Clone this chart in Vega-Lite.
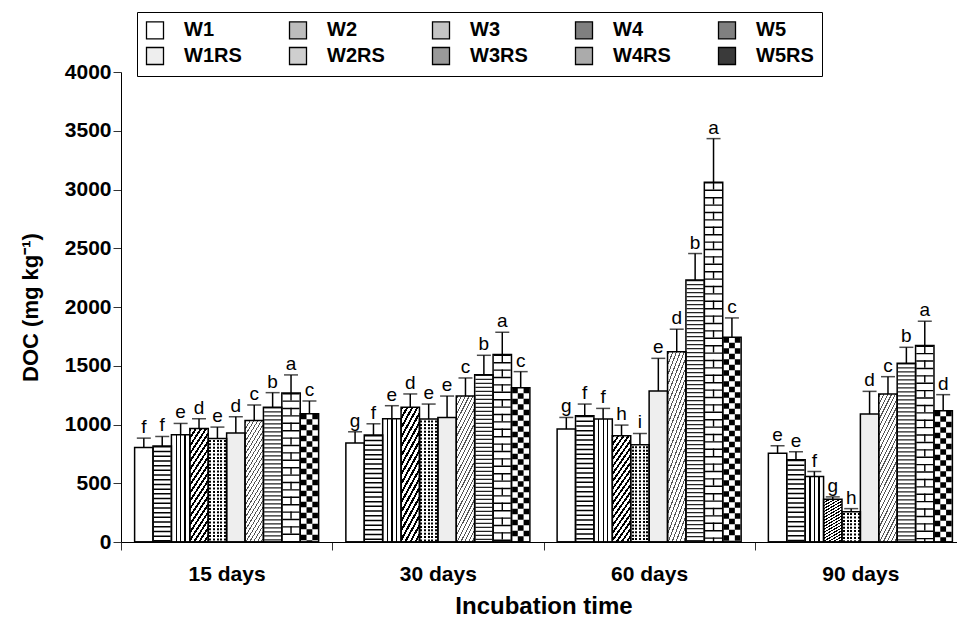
{
  "$schema": "https://vega.github.io/schema/vega-lite/v6.json",
  "autosize": {"type": "none"},
  "padding": {"left": 121, "top": 72, "right": 0, "bottom": 77},
  "width": 836,
  "height": 470,
  "config": {"view": {"stroke": null}, "font": "Liberation Sans", "axis": {"labelColor": "black", "titleColor": "black"}},
  "data": {"values": [
    {"t": "15 days", "s": "W1", "v": 804, "hi": 884, "l": "f"},
    {"t": "15 days", "s": "W2", "v": 816, "hi": 898, "l": "f"},
    {"t": "15 days", "s": "W3", "v": 913, "hi": 1009, "l": "e"},
    {"t": "15 days", "s": "W4", "v": 966, "hi": 1049, "l": "d"},
    {"t": "15 days", "s": "W5", "v": 881, "hi": 978, "l": "e"},
    {"t": "15 days", "s": "W1RS", "v": 927, "hi": 1066, "l": "d"},
    {"t": "15 days", "s": "W2RS", "v": 1035, "hi": 1166, "l": "c"},
    {"t": "15 days", "s": "W3RS", "v": 1146, "hi": 1271, "l": "b"},
    {"t": "15 days", "s": "W4RS", "v": 1268, "hi": 1422, "l": "a"},
    {"t": "15 days", "s": "W5RS", "v": 1092, "hi": 1200, "l": "c"},
    {"t": "30 days", "s": "W1", "v": 842, "hi": 938, "l": "g"},
    {"t": "30 days", "s": "W2", "v": 910, "hi": 1006, "l": "f"},
    {"t": "30 days", "s": "W3", "v": 1049, "hi": 1160, "l": "e"},
    {"t": "30 days", "s": "W4", "v": 1146, "hi": 1260, "l": "d"},
    {"t": "30 days", "s": "W5", "v": 1046, "hi": 1174, "l": "e"},
    {"t": "30 days", "s": "W1RS", "v": 1060, "hi": 1242, "l": "e"},
    {"t": "30 days", "s": "W2RS", "v": 1242, "hi": 1396, "l": "c"},
    {"t": "30 days", "s": "W3RS", "v": 1424, "hi": 1589, "l": "b"},
    {"t": "30 days", "s": "W4RS", "v": 1595, "hi": 1785, "l": "a"},
    {"t": "30 days", "s": "W5RS", "v": 1313, "hi": 1450, "l": "c"},
    {"t": "60 days", "s": "W1", "v": 961, "hi": 1060, "l": "g"},
    {"t": "60 days", "s": "W2", "v": 1074, "hi": 1174, "l": "f"},
    {"t": "60 days", "s": "W3", "v": 1046, "hi": 1137, "l": "f"},
    {"t": "60 days", "s": "W4", "v": 904, "hi": 995, "l": "h"},
    {"t": "60 days", "s": "W5", "v": 827, "hi": 924, "l": "i"},
    {"t": "60 days", "s": "W1RS", "v": 1285, "hi": 1563, "l": "e"},
    {"t": "60 days", "s": "W2RS", "v": 1620, "hi": 1811, "l": "d"},
    {"t": "60 days", "s": "W3RS", "v": 2230, "hi": 2455, "l": "b"},
    {"t": "60 days", "s": "W4RS", "v": 3062, "hi": 3433, "l": "a"},
    {"t": "60 days", "s": "W5RS", "v": 1743, "hi": 1907, "l": "c"},
    {"t": "90 days", "s": "W1", "v": 756, "hi": 819, "l": "e"},
    {"t": "90 days", "s": "W2", "v": 699, "hi": 768, "l": "e"},
    {"t": "90 days", "s": "W3", "v": 557, "hi": 600, "l": "f"},
    {"t": "90 days", "s": "W4", "v": 364, "hi": 384, "l": "g"},
    {"t": "90 days", "s": "W5", "v": 258, "hi": 284, "l": "h"},
    {"t": "90 days", "s": "W1RS", "v": 1089, "hi": 1282, "l": "d"},
    {"t": "90 days", "s": "W2RS", "v": 1260, "hi": 1407, "l": "c"},
    {"t": "90 days", "s": "W3RS", "v": 1521, "hi": 1657, "l": "b"},
    {"t": "90 days", "s": "W4RS", "v": 1672, "hi": 1879, "l": "a"},
    {"t": "90 days", "s": "W5RS", "v": 1117, "hi": 1254, "l": "d"}
  ]},
  "encoding": {
    "x": {"field": "t", "type": "nominal", "sort": ["15 days", "30 days", "60 days", "90 days"],
      "scale": {"range": [0, 845], "paddingInner": 0, "paddingOuter": 0},
      "axis": {"title": "Incubation time", "labelAngle": 0, "tickBand": "extent", "domainColor": "black", "tickColor": "#333", "tickSize": 8, "labelFontSize": 21, "labelFontWeight": "bold", "labelPadding": 13, "titleFontSize": 24, "titleFontWeight": "bold", "titlePadding": 10}},
    "xOffset": {"field": "s", "type": "nominal", "sort": ["W1", "W2", "W3", "W4", "W5", "W1RS", "W2RS", "W3RS", "W4RS", "W5RS"],
      "scale": {"paddingInner": 0, "paddingOuter": 0.74}}
  },
  "layer": [
    {
      "mark": {"type": "bar", "strokeWidth": 0, "fill": "white"},
      "encoding": {
        "y": {"field": "v", "type": "quantitative", "scale": {"domain": [0, 4000], "nice": false},
          "axis": {"title": "DOC (mg kg⁻¹)", "format": "d", "values": [0, 500, 1000, 1500, 2000, 2500, 3000, 3500, 4000], "grid": false, "domainColor": "black", "tickColor": "#333", "tickSize": 8, "labelFontSize": 21, "labelFontWeight": "bold", "labelPadding": 2, "titleFontSize": 22, "titleFontWeight": "bold", "titlePadding": 22}}
      }
    },
    {
      "transform": [{"filter": "datum.s === 'W1RS'"}],
      "mark": {"type": "bar", "strokeWidth": 0, "fill": "#eeeeee"},
      "encoding": {"y": {"field": "v", "type": "quantitative", "scale": {"domain": [0, 4000], "nice": false}}}
    },
    {
      "transform": [{"filter": "datum.s === 'W3'"}],
      "mark": {"type": "bar", "strokeWidth": 0, "fill": {"gradient": "linear", "x1": 0, "y1": 0, "x2": 1, "y2": 0, "stops": [{"offset": 0, "color": "white"}, {"offset": 0.23, "color": "white"}, {"offset": 0.23, "color": "black"}, {"offset": 0.3, "color": "black"}, {"offset": 0.3, "color": "white"}, {"offset": 0.47, "color": "white"}, {"offset": 0.47, "color": "black"}, {"offset": 0.54, "color": "black"}, {"offset": 0.54, "color": "white"}, {"offset": 0.71, "color": "white"}, {"offset": 0.71, "color": "black"}, {"offset": 0.78, "color": "black"}, {"offset": 0.78, "color": "white"}, {"offset": 1, "color": "white"}]}},
      "encoding": {"y": {"field": "v", "type": "quantitative", "scale": {"domain": [0, 4000], "nice": false}}}
    },
    {
      "transform": [{"filter": "datum.s === 'W4'"}],
      "mark": {"type": "bar", "strokeWidth": 0, "fill": {"gradient": "linear", "x1": 0, "y1": 0, "x2": 0.294, "y2": 1.176, "stops": [{"offset": 0, "color": "black"}, {"offset": 0.024, "color": "black"}, {"offset": 0.024, "color": "white"}, {"offset": 0.0555, "color": "white"}, {"offset": 0.0555, "color": "black"}, {"offset": 0.0795, "color": "black"}, {"offset": 0.0795, "color": "white"}, {"offset": 0.111, "color": "white"}, {"offset": 0.111, "color": "black"}, {"offset": 0.135, "color": "black"}, {"offset": 0.135, "color": "white"}, {"offset": 0.1665, "color": "white"}, {"offset": 0.1665, "color": "black"}, {"offset": 0.1905, "color": "black"}, {"offset": 0.1905, "color": "white"}, {"offset": 0.222, "color": "white"}, {"offset": 0.222, "color": "black"}, {"offset": 0.246, "color": "black"}, {"offset": 0.246, "color": "white"}, {"offset": 0.2775, "color": "white"}, {"offset": 0.2775, "color": "black"}, {"offset": 0.3015, "color": "black"}, {"offset": 0.3015, "color": "white"}, {"offset": 0.333, "color": "white"}, {"offset": 0.333, "color": "black"}, {"offset": 0.357, "color": "black"}, {"offset": 0.357, "color": "white"}, {"offset": 0.3885, "color": "white"}, {"offset": 0.3885, "color": "black"}, {"offset": 0.4125, "color": "black"}, {"offset": 0.4125, "color": "white"}, {"offset": 0.444, "color": "white"}, {"offset": 0.444, "color": "black"}, {"offset": 0.468, "color": "black"}, {"offset": 0.468, "color": "white"}, {"offset": 0.4995, "color": "white"}, {"offset": 0.4995, "color": "black"}, {"offset": 0.5235, "color": "black"}, {"offset": 0.5235, "color": "white"}, {"offset": 0.555, "color": "white"}, {"offset": 0.555, "color": "black"}, {"offset": 0.579, "color": "black"}, {"offset": 0.579, "color": "white"}, {"offset": 0.6105, "color": "white"}, {"offset": 0.6105, "color": "black"}, {"offset": 0.6345, "color": "black"}, {"offset": 0.6345, "color": "white"}, {"offset": 0.666, "color": "white"}, {"offset": 0.666, "color": "black"}, {"offset": 0.69, "color": "black"}, {"offset": 0.69, "color": "white"}, {"offset": 0.7215, "color": "white"}, {"offset": 0.7215, "color": "black"}, {"offset": 0.7455, "color": "black"}, {"offset": 0.7455, "color": "white"}, {"offset": 0.777, "color": "white"}, {"offset": 0.777, "color": "black"}, {"offset": 0.801, "color": "black"}, {"offset": 0.801, "color": "white"}, {"offset": 0.8325, "color": "white"}, {"offset": 0.8325, "color": "black"}, {"offset": 0.8565, "color": "black"}, {"offset": 0.8565, "color": "white"}, {"offset": 0.888, "color": "white"}, {"offset": 0.888, "color": "black"}, {"offset": 0.912, "color": "black"}, {"offset": 0.912, "color": "white"}, {"offset": 0.9435, "color": "white"}, {"offset": 0.9435, "color": "black"}, {"offset": 0.9675, "color": "black"}, {"offset": 0.9675, "color": "white"}, {"offset": 1, "color": "white"}]}},
      "encoding": {"y": {"field": "v", "type": "quantitative", "scale": {"domain": [0, 4000], "nice": false}}}
    },
    {
      "transform": [{"filter": "datum.s === 'W5'"}],
      "mark": {"type": "bar", "strokeWidth": 0, "fill": {"gradient": "linear", "x1": 0, "y1": 0, "x2": 1, "y2": 0, "stops": [{"offset": 0, "color": "white"}, {"offset": 0.05, "color": "white"}, {"offset": 0.05, "color": "black"}, {"offset": 0.16, "color": "black"}, {"offset": 0.16, "color": "white"}, {"offset": 0.25, "color": "white"}, {"offset": 0.25, "color": "black"}, {"offset": 0.36, "color": "black"}, {"offset": 0.36, "color": "white"}, {"offset": 0.45, "color": "white"}, {"offset": 0.45, "color": "black"}, {"offset": 0.56, "color": "black"}, {"offset": 0.56, "color": "white"}, {"offset": 0.65, "color": "white"}, {"offset": 0.65, "color": "black"}, {"offset": 0.76, "color": "black"}, {"offset": 0.76, "color": "white"}, {"offset": 0.85, "color": "white"}, {"offset": 0.85, "color": "black"}, {"offset": 0.96, "color": "black"}, {"offset": 0.96, "color": "white"}, {"offset": 1, "color": "white"}]}},
      "encoding": {"y": {"field": "v", "type": "quantitative", "scale": {"domain": [0, 4000], "nice": false}}}
    },
    {
      "transform": [{"filter": "datum.s === 'W2RS'"}],
      "mark": {"type": "bar", "strokeWidth": 0, "fill": {"gradient": "linear", "x1": 0, "y1": 0, "x2": 0.294, "y2": 1.176, "stops": [{"offset": 0, "color": "white"}, {"offset": 0.01, "color": "white"}, {"offset": 0.01, "color": "#555"}, {"offset": 0.022, "color": "#555"}, {"offset": 0.022, "color": "white"}, {"offset": 0.0517, "color": "white"}, {"offset": 0.0517, "color": "#555"}, {"offset": 0.0637, "color": "#555"}, {"offset": 0.0637, "color": "white"}, {"offset": 0.0933, "color": "white"}, {"offset": 0.0933, "color": "#555"}, {"offset": 0.1053, "color": "#555"}, {"offset": 0.1053, "color": "white"}, {"offset": 0.135, "color": "white"}, {"offset": 0.135, "color": "#555"}, {"offset": 0.147, "color": "#555"}, {"offset": 0.147, "color": "white"}, {"offset": 0.1767, "color": "white"}, {"offset": 0.1767, "color": "#555"}, {"offset": 0.1887, "color": "#555"}, {"offset": 0.1887, "color": "white"}, {"offset": 0.2183, "color": "white"}, {"offset": 0.2183, "color": "#555"}, {"offset": 0.2303, "color": "#555"}, {"offset": 0.2303, "color": "white"}, {"offset": 0.26, "color": "white"}, {"offset": 0.26, "color": "#555"}, {"offset": 0.272, "color": "#555"}, {"offset": 0.272, "color": "white"}, {"offset": 0.3017, "color": "white"}, {"offset": 0.3017, "color": "#555"}, {"offset": 0.3137, "color": "#555"}, {"offset": 0.3137, "color": "white"}, {"offset": 0.3433, "color": "white"}, {"offset": 0.3433, "color": "#555"}, {"offset": 0.3553, "color": "#555"}, {"offset": 0.3553, "color": "white"}, {"offset": 0.385, "color": "white"}, {"offset": 0.385, "color": "#555"}, {"offset": 0.397, "color": "#555"}, {"offset": 0.397, "color": "white"}, {"offset": 0.4267, "color": "white"}, {"offset": 0.4267, "color": "#555"}, {"offset": 0.4387, "color": "#555"}, {"offset": 0.4387, "color": "white"}, {"offset": 0.4683, "color": "white"}, {"offset": 0.4683, "color": "#555"}, {"offset": 0.4803, "color": "#555"}, {"offset": 0.4803, "color": "white"}, {"offset": 0.51, "color": "white"}, {"offset": 0.51, "color": "#555"}, {"offset": 0.522, "color": "#555"}, {"offset": 0.522, "color": "white"}, {"offset": 0.5517, "color": "white"}, {"offset": 0.5517, "color": "#555"}, {"offset": 0.5637, "color": "#555"}, {"offset": 0.5637, "color": "white"}, {"offset": 0.5933, "color": "white"}, {"offset": 0.5933, "color": "#555"}, {"offset": 0.6053, "color": "#555"}, {"offset": 0.6053, "color": "white"}, {"offset": 0.635, "color": "white"}, {"offset": 0.635, "color": "#555"}, {"offset": 0.647, "color": "#555"}, {"offset": 0.647, "color": "white"}, {"offset": 0.6767, "color": "white"}, {"offset": 0.6767, "color": "#555"}, {"offset": 0.6887, "color": "#555"}, {"offset": 0.6887, "color": "white"}, {"offset": 0.7183, "color": "white"}, {"offset": 0.7183, "color": "#555"}, {"offset": 0.7303, "color": "#555"}, {"offset": 0.7303, "color": "white"}, {"offset": 0.76, "color": "white"}, {"offset": 0.76, "color": "#555"}, {"offset": 0.772, "color": "#555"}, {"offset": 0.772, "color": "white"}, {"offset": 0.8017, "color": "white"}, {"offset": 0.8017, "color": "#555"}, {"offset": 0.8137, "color": "#555"}, {"offset": 0.8137, "color": "white"}, {"offset": 0.8433, "color": "white"}, {"offset": 0.8433, "color": "#555"}, {"offset": 0.8553, "color": "#555"}, {"offset": 0.8553, "color": "white"}, {"offset": 0.885, "color": "white"}, {"offset": 0.885, "color": "#555"}, {"offset": 0.897, "color": "#555"}, {"offset": 0.897, "color": "white"}, {"offset": 0.9267, "color": "white"}, {"offset": 0.9267, "color": "#555"}, {"offset": 0.9387, "color": "#555"}, {"offset": 0.9387, "color": "white"}, {"offset": 0.9683, "color": "white"}, {"offset": 0.9683, "color": "#555"}, {"offset": 0.9803, "color": "#555"}, {"offset": 0.9803, "color": "white"}, {"offset": 1, "color": "white"}]}},
      "encoding": {"y": {"field": "v", "type": "quantitative", "scale": {"domain": [0, 4000], "nice": false}}}
    },
    {
      "transform": [{"filter": "datum.s === 'W2'"}],
      "mark": {"type": "rule", "color": "black", "strokeWidth": 17, "strokeDash": [1.5, 3.2]},
      "encoding": {"y": {"field": "v", "type": "quantitative", "scale": {"domain": [0, 4000], "nice": false}}, "y2": {"datum": 0}}
    },
    {
      "transform": [{"filter": "datum.s === 'W3RS'"}],
      "mark": {"type": "rule", "color": "#222", "strokeWidth": 17, "strokeDash": [1.2, 2.8]},
      "encoding": {"y": {"field": "v", "type": "quantitative", "scale": {"domain": [0, 4000], "nice": false}}, "y2": {"datum": 0}}
    },
    {
      "transform": [{"filter": "datum.s === 'W4RS'"}],
      "mark": {"type": "rule", "color": "black", "strokeWidth": 17, "strokeDash": [1.4, 6.0]},
      "encoding": {"y": {"field": "v", "type": "quantitative", "scale": {"domain": [0, 4000], "nice": false}}, "y2": {"datum": 0}}
    },
    {
      "transform": [{"filter": "datum.s === 'W4RS'"}],
      "mark": {"type": "rule", "color": "black", "strokeWidth": 1.4, "strokeDash": [7.4, 7.4]},
      "encoding": {"y": {"field": "v", "type": "quantitative", "scale": {"domain": [0, 4000], "nice": false}}, "y2": {"datum": 0}}
    },
    {
      "transform": [{"filter": "datum.s === 'W5RS'"}],
      "mark": {"type": "rule", "color": "black", "strokeWidth": 17, "strokeDash": [5.5, 5.5]},
      "encoding": {"y": {"field": "v", "type": "quantitative", "scale": {"domain": [0, 4000], "nice": false}}, "y2": {"datum": 0}}
    },
    {
      "transform": [{"filter": "datum.s === 'W5RS'"}],
      "mark": {"type": "rule", "color": "white", "strokeWidth": 5.8},
      "encoding": {"y": {"field": "v", "type": "quantitative", "scale": {"domain": [0, 4000], "nice": false}}, "y2": {"datum": 0}}
    },
    {
      "transform": [{"filter": "datum.s === 'W5RS'"}],
      "mark": {"type": "rule", "color": "black", "strokeWidth": 5.8, "strokeDash": [5.5, 5.5], "strokeDashOffset": 5.5},
      "encoding": {"y": {"field": "v", "type": "quantitative", "scale": {"domain": [0, 4000], "nice": false}}, "y2": {"datum": 0}}
    },
    {
      "transform": [{"filter": "datum.s === 'W5'"}],
      "mark": {"type": "rule", "color": "white", "strokeWidth": 17, "strokeDash": [1.4, 2.0]},
      "encoding": {"y": {"field": "v", "type": "quantitative", "scale": {"domain": [0, 4000], "nice": false}}, "y2": {"datum": 0}}
    },
    {
      "mark": {"type": "bar", "fill": "transparent", "stroke": "black", "strokeWidth": 1.5},
      "encoding": {"y": {"field": "v", "type": "quantitative", "scale": {"domain": [0, 4000], "nice": false}}}
    },
    {
      "mark": {"type": "rule", "color": "black", "strokeWidth": 1.5},
      "encoding": {"y": {"field": "v", "type": "quantitative", "scale": {"domain": [0, 4000], "nice": false}}, "y2": {"field": "hi"}}
    },
    {
      "mark": {"type": "tick", "color": "black", "size": 14, "thickness": 1.5},
      "encoding": {"y": {"field": "hi", "type": "quantitative", "scale": {"domain": [0, 4000], "nice": false}}}
    },
    {
      "mark": {"type": "text", "font": "Liberation Sans", "fontSize": 19, "dy": -5, "baseline": "alphabetic", "color": "black"},
      "encoding": {"y": {"field": "hi", "type": "quantitative", "scale": {"domain": [0, 4000], "nice": false}}, "text": {"field": "l"}}
    },
    {
      "mark": {"type": "bar", "stroke": "black", "strokeWidth": 1.5},
      "encoding": {
        "y": {"datum": 0, "scale": {"domain": [0, 4000], "nice": false}},
        "fill": {"field": "s", "type": "nominal",
          "scale": {"domain": ["W1", "W2", "W3", "W4", "W5", "W1RS", "W2RS", "W3RS", "W4RS", "W5RS"],
            "range": ["white", "#bdbdbd", "#c4c4c4", "#7f7f7f", "#808080", "#eeeeee", "#cfcfcf", "#999999", "#ababab", "#3a3a3a"]},
          "legend": {"title": null, "orient": "none", "legendX": 16, "legendY": -60, "direction": "horizontal", "columns": 5, "symbolType": "square", "symbolSize": 289, "symbolStrokeColor": "black", "symbolStrokeWidth": 1.3, "labelFont": "Liberation Sans", "labelFontWeight": "bold", "labelFontSize": 20, "labelColor": "black", "labelOffset": 19, "columnPadding": 44, "rowPadding": 2, "padding": 8, "strokeColor": "black", "fillColor": "white",
            "encode": {"symbols": {"update": {"stroke": {"value": "black"}, "strokeWidth": {"value": 1.3}}}}}}
      }
    }
  ]
}
